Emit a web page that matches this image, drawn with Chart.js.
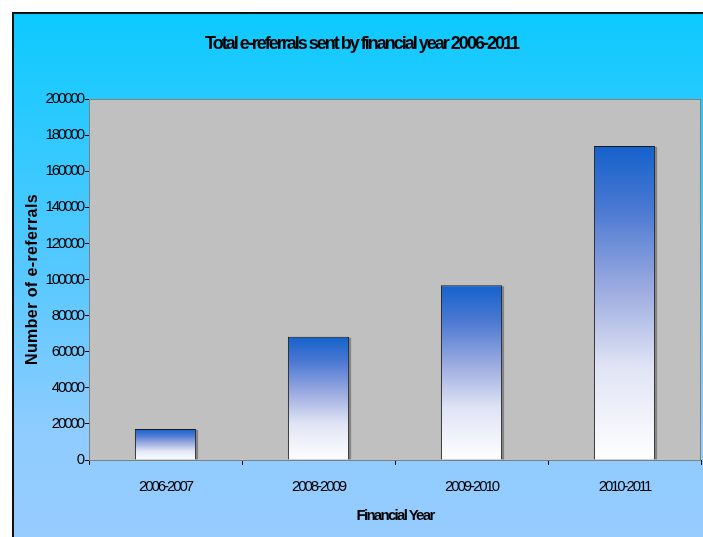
<!DOCTYPE html>
<html>
<head>
<meta charset="utf-8">
<script src="https://cdn.jsdelivr.net/npm/chart.js@4.4.1/dist/chart.umd.min.js"></script>
<style>
  html, body { margin: 0; padding: 0; background: #ffffff; }
  #wrap { position: relative; width: 703px; height: 537px; overflow: hidden; }
  #frame {
    position: absolute; left: 12px; top: 12px; width: 720px; height: 560px;
    border-left: 2px solid #111; border-top: 2px solid #111;
    background: linear-gradient(to bottom, #0ccaff 0%, #55c8ff 45%, #8fccff 75%, #99ccff 100%);
  }
  canvas { position: absolute; left: 0; top: 0; }
</style>
</head>
<body>
<div id="wrap">
  <div id="frame"></div>
  <canvas id="c" width="703" height="537"></canvas>
</div>
<script>
// Total e-referrals per financial year
const years = ['2006-2007', '2008-2009', '2009-2010', '2010-2011'];
const referrals = [17200, 68300, 96800, 174000];
const yTicks = [0, 20000, 40000, 60000, 80000, 100000, 120000, 140000, 160000, 180000, 200000];

const FONT = "'Liberation Sans', Arial, sans-serif";

const canvas = document.getElementById('c');
const ctx2d = canvas.getContext('2d');

// tight letter spacing per text style (bold flag + pixel size)
function spacingFor(font) {
  const m = /(\d+(?:\.\d+)?)px/.exec(font);
  const size = m ? parseFloat(m[1]) : 12;
  const bold = /bold|700/.test(font);
  if (bold && size === 18) return -2;     // chart title
  if (bold && size === 15) return -1.7;   // x axis title
  if (bold && size === 16) return 0.4;    // y axis title
  if (!bold && size === 15) return -2.1;  // tick labels
  return 0;
}
const baseFill = CanvasRenderingContext2D.prototype.fillText;
const baseMeasure = CanvasRenderingContext2D.prototype.measureText;
ctx2d.fillText = function (t, x, y, w) {
  this.letterSpacing = spacingFor(this.font) + 'px';
  return w === undefined ? baseFill.call(this, t, x, y) : baseFill.call(this, t, x, y, w);
};
ctx2d.measureText = function (t) {
  this.letterSpacing = spacingFor(this.font) + 'px';
  return baseMeasure.call(this, t);
};

// grey plot panel with a thin border
const plotPanel = {
  id: 'plotPanel',
  beforeDatasetsDraw(chart) {
    const { ctx, chartArea: a } = chart;
    ctx.save();
    ctx.fillStyle = '#c0c0c0';
    ctx.fillRect(a.left, a.top, a.right - a.left, a.bottom - a.top);
    ctx.strokeStyle = '#808080';
    ctx.lineWidth = 1;
    ctx.strokeRect(a.left + 0.5, a.top + 0.5, a.right - a.left - 1, a.bottom - a.top);
    ctx.restore();
  }
};

// soft grey edge on the right of each bar
const barShade = {
  id: 'barShade',
  beforeDatasetsDraw(chart) {
    const { ctx } = chart;
    const meta = chart.getDatasetMeta(0);
    ctx.save();
    ctx.fillStyle = 'rgba(90,90,90,0.6)';
    meta.data.forEach(el => {
      const half = el.width / 2;
      ctx.fillRect(el.x + half, el.y + 1, 2, el.base - el.y - 1);
    });
    ctx.restore();
  }
};

function barGradient(context) {
  const chart = context.chart;
  const y = chart.scales && chart.scales.y;
  if (!y || context.dataIndex === undefined) return '#1565c8';
  const v = context.dataset.data[context.dataIndex];
  const top = y.getPixelForValue(v);
  const bottom = y.getPixelForValue(0);
  if (!isFinite(top) || !isFinite(bottom) || top === bottom) return '#1565c8';
  const g = chart.ctx.createLinearGradient(0, top, 0, bottom);
  g.addColorStop(0, '#1462cc');
  g.addColorStop(0.2, '#4a78d2');
  g.addColorStop(0.45, '#9aaae0');
  g.addColorStop(0.7, '#dfe3f4');
  g.addColorStop(1, '#ffffff');
  return g;
}

new Chart(canvas, {
  type: 'bar',
  data: {
    labels: years,
    datasets: [{
      data: referrals,
      backgroundColor: barGradient,
      borderColor: '#1a1a1a',
      borderWidth: 1,
      borderSkipped: 'bottom',
      barPercentage: 0.4,
      categoryPercentage: 1.0
    }]
  },
  options: {
    responsive: false,
    animation: false,
    layout: { padding: { left: 22, right: 2, top: 0, bottom: 0 } },
    plugins: {
      legend: { display: false },
      tooltip: { enabled: false },
      title: {
        display: true,
        text: 'Total e-referrals sent by financial year 2006-2011',
        color: '#000',
        font: { family: FONT, size: 18, weight: 'bold', lineHeight: 1.2 },
        padding: { top: 33, bottom: 44.4 }
      }
    },
    scales: {
      x: {
        offset: true,
        grid: { display: true, offset: true, drawOnChartArea: false, tickLength: 5, color: '#000' },
        border: { display: true, color: '#000', width: 1 },
        ticks: { color: '#000', font: { family: FONT, size: 15 }, padding: 13, maxRotation: 0 },
        title: {
          display: true, text: 'Financial Year', color: '#000',
          font: { family: FONT, size: 15, weight: 'bold', lineHeight: 1.2 },
          padding: { top: 0, bottom: 12 }
        },
        afterFit(scale) { scale.height = 77; }
      },
      y: {
        min: 0, max: 200000,
        afterBuildTicks(scale) { scale.ticks = yTicks.map(v => ({ value: v })); },
        grid: { display: true, drawOnChartArea: false, tickLength: 4, color: '#000' },
        border: { display: true, color: '#000', width: 1 },
        ticks: { color: '#000', font: { family: FONT, size: 15 }, padding: 2, callback: v => String(v) },
        title: {
          display: true, text: 'Number of e-referrals', color: '#000',
          font: { family: FONT, size: 16, weight: 'bold', lineHeight: 1.2 },
          padding: { top: 1, bottom: 0 }
        },
        afterFit(scale) { scale.width = 67; }
      }
    }
  },
  plugins: [plotPanel, barShade]
});
</script>
</body>
</html>
